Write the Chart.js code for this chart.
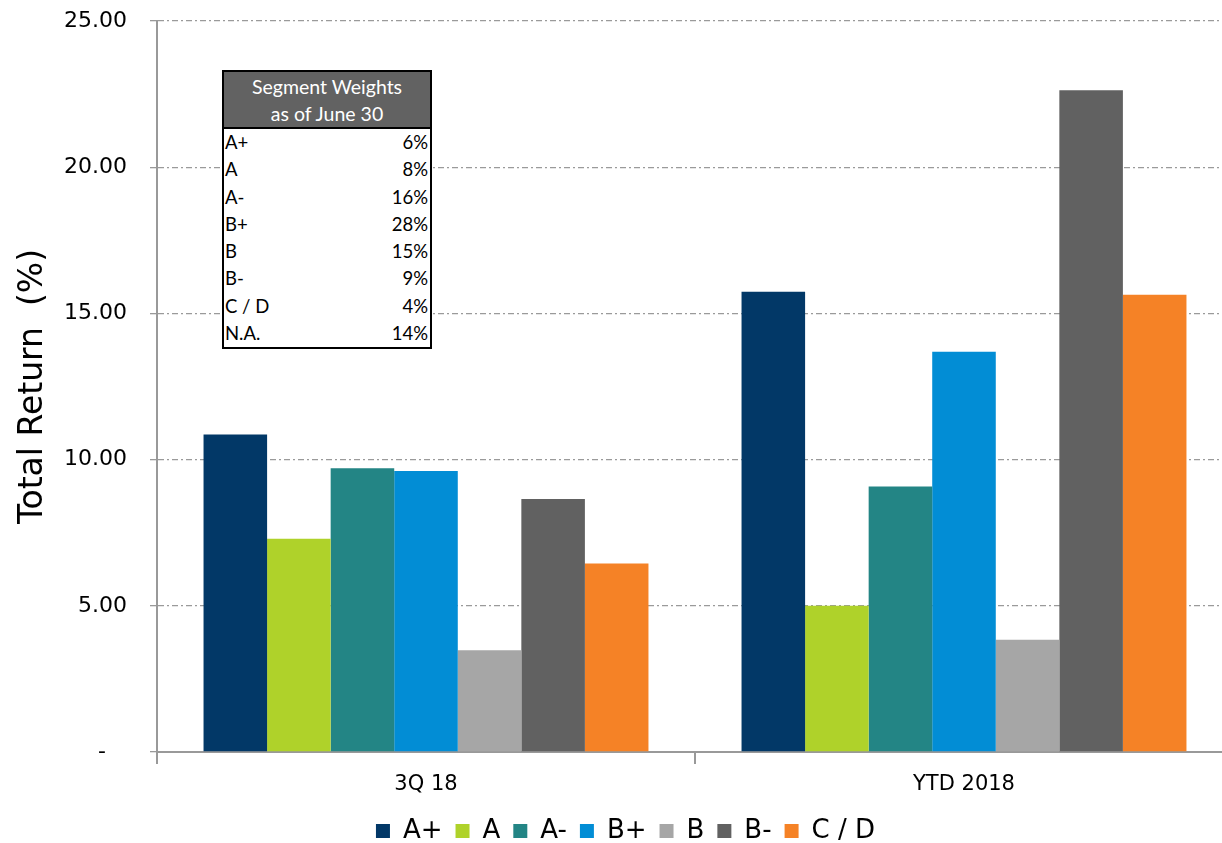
<!DOCTYPE html>
<html>
<head>
<meta charset="utf-8">
<script src="https://cdn.jsdelivr.net/npm/chart.js@4.4.0/dist/chart.umd.min.js"></script>
<style>
  html, body { margin: 0; padding: 0; background: #fff; overflow: hidden; width: 1222px; height: 843px; }
  #wrap { position: relative; width: 1240px; height: 843px; }
  #weights {
    position: absolute; left: 222px; top: 70px; width: 210px; height: 279px;
    box-sizing: border-box; border: 2px solid #000; background: #fff;
    font-family: Lato, "Open Sans", sans-serif; font-size: 18.5px; color: #000;
  }
  #weights .hdr {
    background: #626262; color: #fff; text-align: center; height: 57px;
    border-bottom: 2px solid #000; font-size: 19.5px; line-height: 27px; box-sizing: border-box;
    padding-top: 1px;
  }
  #weights .row { display: flex; justify-content: space-between; height: 27.3px; line-height: 27.3px; padding: 0 2px 0 1px; }
</style>
</head>
<body>
<div id="wrap">
  <canvas id="c" width="1240" height="843"></canvas>
  <div id="weights"></div>
</div>
<script>
const categories = ["3Q 18", "YTD 2018"];
const seriesNames = ["A+", "A", "A-", "B+", "B", "B-", "C / D"];
const seriesColors = ["#023867", "#AFD22A", "#238585", "#028DD5", "#A6A6A6", "#616161", "#F58226"];
const valuesAPlus = [10.86, 15.74];
const valuesA = [7.29, 5.00];
const valuesAMinus = [9.70, 9.08];
const valuesBPlus = [9.61, 13.69];
const valuesB = [3.48, 3.84];
const valuesBMinus = [8.65, 22.63];
const valuesCD = [6.45, 15.64];
const yTicks = [0, 5, 10, 15, 20, 25];
const weightLabels = ["A+", "A", "A-", "B+", "B", "B-", "C / D", "N.A."];
const weightValues = ["6%", "8%", "16%", "28%", "15%", "9%", "4%", "14%"];
const tableTitle = ["Segment Weights", "as of June 30"];

// weights table
const tbl = document.getElementById('weights');
const hdr = document.createElement('div');
hdr.className = 'hdr';
hdr.innerHTML = tableTitle.map(t => '<div>' + t + '</div>').join('');
tbl.appendChild(hdr);
weightLabels.forEach((l, i) => {
  const r = document.createElement('div');
  r.className = 'row';
  const a = document.createElement('span'); a.textContent = l;
  const b = document.createElement('span'); b.textContent = weightValues[i];
  r.appendChild(a); r.appendChild(b);
  tbl.appendChild(r);
});

const allValues = [valuesAPlus, valuesA, valuesAMinus, valuesBPlus, valuesB, valuesBMinus, valuesCD];
const datasets = allValues.map((vals, i) => ({
  label: seriesNames[i],
  data: vals,
  backgroundColor: seriesColors[i],
  borderWidth: 0,
  categoryPercentage: 0.827,
  barPercentage: 1.0
}));

const FONT = "'DejaVu Sans', Verdana, sans-serif";

const legendShift = {
  id: 'legendShift',
  afterLayout(chart) {
    if (chart.legend) { chart.legend.left += 9; chart.legend.right += 9; }
  }
};

new Chart(document.getElementById('c'), {
  type: 'bar',
  data: { labels: categories, datasets },
  plugins: [legendShift],
  options: {
    responsive: false,
    animation: false,
    layout: { padding: { top: 21, right: 7, bottom: -11, left: 0 } },
    plugins: {
      tooltip: { enabled: false },
      legend: {
        position: 'bottom',
        labels: {
          font: { family: FONT, size: 26 },
          color: '#000',
          boxWidth: 14, boxHeight: 14,
          padding: 13
        }
      }
    },
    scales: {
      x: {
        offset: true,
        grid: { display: true, drawOnChartArea: false, drawTicks: true, tickLength: 12, color: '#999', lineWidth: 2, offset: true },
        border: { display: true, color: '#999', width: 2 },
        ticks: { font: { family: FONT, size: 21 }, color: '#000', padding: 8 },
        afterFit: s => { s.height = 53; }
      },
      y: {
        min: 0, max: 25,
        afterBuildTicks: s => { s.ticks = yTicks.map(v => ({ value: v })); },
        grid: {
          color: ctx => (ctx.tick && ctx.tick.value === 0) ? 'rgba(0,0,0,0)' : '#9a9a9a',
          lineWidth: 1.3,
          tickLength: 7,
          tickColor: '#999',
          tickBorderDash: []
        },
        border: { display: true, color: '#999', width: 2, dash: [6, 3, 2, 3] },
        ticks: {
          font: { family: FONT, size: 22 }, color: '#000', padding: 23,
          callback: v => v === 0 ? '-   ' : Number(v).toFixed(2)
        },
        title: {
          display: true, text: 'Total Return  (%)',
          font: { family: FONT, size: 33 }, color: '#000',
          padding: { top: 14, bottom: 0 }
        },
        afterFit: s => { s.width = 157; s.paddingTop = 0; s.paddingBottom = 0; }
      }
    }
  }
});
</script>
</body>
</html>
